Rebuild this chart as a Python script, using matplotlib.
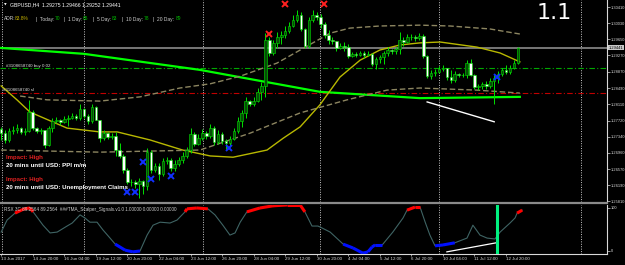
import matplotlib
matplotlib.use("Agg")
import matplotlib.pyplot as plt
from matplotlib.patches import Rectangle

W, H = 625, 265

# ---------------- candles: GBPUSD H4, bar 0 = 13 Jun 2017 12:00 ----------------
first_open = 1.2752
closes = [
    1.2742, 1.2726, 1.2747, 1.2749, 1.2754, 1.2745, 1.2747, 1.2792, 1.2754, 1.2747,
    1.2749, 1.2714, 1.2754, 1.2771, 1.2773, 1.2769, 1.2776, 1.2778, 1.2783, 1.2778,
    1.2799, 1.2783, 1.2771, 1.2804, 1.2773, 1.2730, 1.2742, 1.2733, 1.2735, 1.2702,
    1.2688, 1.2655, 1.2626, 1.2626, 1.2622, 1.2629, 1.2617, 1.2697, 1.2655, 1.2664,
    1.2645, 1.2676, 1.2678, 1.2659, 1.2669, 1.2678, 1.2688, 1.2702, 1.2740, 1.2716,
    1.2730, 1.2742, 1.2735, 1.2754, 1.2721, 1.2740, 1.2723, 1.2719, 1.2728, 1.2747,
    1.2771, 1.2790, 1.2818, 1.2811, 1.2818, 1.2840, 1.2854, 1.2963, 1.2932, 1.2956,
    1.2970, 1.2975, 1.2984, 1.2996, 1.3010, 1.3022, 1.2989, 1.2949, 1.3010, 1.3022,
    1.3017, 1.3001, 1.2975, 1.2963, 1.2960, 1.2944, 1.2949, 1.2946, 1.2925, 1.2930,
    1.2927, 1.2932, 1.2927, 1.2930, 1.2906, 1.2918, 1.2923, 1.2932, 1.2939, 1.2937,
    1.2941, 1.2963, 1.2958, 1.2970, 1.2970, 1.2968, 1.2972, 1.2925, 1.2877, 1.2885,
    1.2887, 1.2894, 1.2896, 1.2875, 1.2868, 1.2882, 1.2880, 1.2880, 1.2908, 1.2880,
    1.2851, 1.2854, 1.2859, 1.2854, 1.2866, 1.2873, 1.2882, 1.2892, 1.2887, 1.2896,
    1.2908, 1.29441,
]
highs = [
    1.2757, 1.2749, 1.2754, 1.2759, 1.2764, 1.2757, 1.2754, 1.2821, 1.2797, 1.2757,
    1.2754, 1.2749, 1.2759, 1.2778, 1.2780, 1.2776, 1.2783, 1.2785, 1.2790, 1.2787,
    1.2811, 1.2802, 1.2787, 1.2811, 1.2806, 1.2773, 1.2749, 1.2745, 1.2742, 1.2745,
    1.2719, 1.2693, 1.2659, 1.2633, 1.2631, 1.2636, 1.2631, 1.2707, 1.2702, 1.2671,
    1.2671, 1.2683, 1.2685, 1.2683, 1.2678, 1.2685, 1.2697, 1.2709, 1.2754, 1.2745,
    1.2740, 1.2752, 1.2747, 1.2764, 1.2759, 1.2749, 1.2745, 1.2728, 1.2735, 1.2754,
    1.2780, 1.2797, 1.2828, 1.2821, 1.2828, 1.2849, 1.2863, 1.2979, 1.2970, 1.2963,
    1.2982, 1.2984, 1.2996, 1.3005, 1.3022, 1.3034, 1.3029, 1.2991, 1.3017, 1.3034,
    1.3029, 1.3024, 1.3005, 1.2987, 1.2970, 1.2960, 1.2956, 1.2958, 1.2953, 1.2934,
    1.2934, 1.2937, 1.2937, 1.2937, 1.2932, 1.2923, 1.2927, 1.2937, 1.2946, 1.2941,
    1.2946, 1.2982, 1.2970, 1.2977, 1.2977, 1.2975, 1.2979, 1.2977, 1.2927, 1.2892,
    1.2894, 1.2901, 1.2904, 1.2896, 1.2892, 1.2889, 1.2885, 1.2885, 1.2915, 1.2918,
    1.2882, 1.2859, 1.2863, 1.2866, 1.2873, 1.2880, 1.2889, 1.2896, 1.2904, 1.2904,
    1.2915, 1.29466,
]
lows = [
    1.2726, 1.2719, 1.2721, 1.2740, 1.2742, 1.2740, 1.2738, 1.2745, 1.2749, 1.2742,
    1.2740, 1.2707, 1.2712, 1.2745, 1.2766, 1.2761, 1.2766, 1.2759, 1.2776, 1.2773,
    1.2773, 1.2778, 1.2764, 1.2766, 1.2773, 1.2721, 1.2726, 1.2728, 1.2728, 1.2688,
    1.2683, 1.2648, 1.2622, 1.2617, 1.2612, 1.2588, 1.2598, 1.2607, 1.2648, 1.2650,
    1.2631, 1.2641, 1.2669, 1.2652, 1.2652, 1.2664, 1.2671, 1.2683, 1.2695, 1.2712,
    1.2714, 1.2726, 1.2728, 1.2730, 1.2714, 1.2716, 1.2716, 1.2704, 1.2712, 1.2726,
    1.2742, 1.2757, 1.2778, 1.2806, 1.2806, 1.2816, 1.2821, 1.2828, 1.2925, 1.2927,
    1.2944, 1.2953, 1.2968, 1.2979, 1.2994, 1.3005, 1.2984, 1.2944, 1.2944, 1.3005,
    1.3010, 1.2991, 1.2968, 1.2953, 1.2953, 1.2937, 1.2941, 1.2937, 1.2920, 1.2923,
    1.2923, 1.2925, 1.2920, 1.2925, 1.2901, 1.2894, 1.2908, 1.2906, 1.2925, 1.2930,
    1.2930, 1.2930, 1.2949, 1.2956, 1.2963, 1.2960, 1.2963, 1.2920, 1.2873, 1.2870,
    1.2877, 1.2885, 1.2889, 1.2868, 1.2861, 1.2863, 1.2875, 1.2875, 1.2873, 1.2877,
    1.2847, 1.2844, 1.2847, 1.2847, 1.2849, 1.2811, 1.2861, 1.2877, 1.2882, 1.2882,
    1.2894, 1.2906,
]

# ---------------- indicator lines on the price chart (bar, price) ----------------
ma_lime_x = [0, 21, 50.4, 80.8, 106.2, 131.5]
ma_lime_y = [1.2944, 1.2930, 1.2892, 1.2840, 1.2825, 1.2828]

tma_mid_x = [0, 4, 7.3, 16.7, 25, 29.4, 37.7, 46, 53, 58.8, 67.4, 71.5, 75.8,
             80.8, 85.9, 91, 96, 101.1, 106.2, 111.3, 120.6, 126.5, 131.5]
tma_mid_y = [1.2854, 1.2821, 1.2792, 1.2754, 1.2745, 1.2745, 1.2726, 1.2702, 1.2688,
             1.2685, 1.2702, 1.2730, 1.2757, 1.2809, 1.2875, 1.2915, 1.2939, 1.2951,
             1.2956, 1.2958, 1.2946, 1.2932, 1.2911]

band_up_x = [4.8, 11.6, 25, 35.2, 45.3, 53, 60.6, 69.9, 75.8, 83.4, 88.4, 96,
             106.2, 113.8, 123.9, 131.5]
band_up_y = [1.2830, 1.2821, 1.2818, 1.2828, 1.2849, 1.2859, 1.2877, 1.2908, 1.2939,
             1.2979, 1.2991, 1.2996, 1.2998, 1.2996, 1.2989, 1.2977]

band_dn_x = [0, 25, 50.4, 63.1, 75.8, 87.7, 97.8, 106.2, 120.6, 131.5]
band_dn_y = [1.2702, 1.2697, 1.2702, 1.2742, 1.2790, 1.2821, 1.2844, 1.2849, 1.2844, 1.2837]

# signal crosses
sell_x = [67.9, 72, 81.9]
sell_y = [1.2977, 1.3048, 1.3048]
buy_x = [31.9, 33.9, 35.9, 38, 43, 57.8, 125.7]
buy_y = [1.2603, 1.2603, 1.2674, 1.2633, 1.2641, 1.2707, 1.2875]

buy_level = 1.2896
sl_level = 1.2837
last_price = 1.29441
trend_x = [108, 125]
trend_y = [1.2816, 1.2769]

week_seps = [0.3, 21, 51.2, 80.8, 111, 147]

# ---------------- RSX oscillator (bar, value) ----------------
rsx_x = [0, 1.5, 3.5, 5.8, 7.3, 8.1, 10.6, 12.4, 14.2, 16.7, 18, 20, 21.2, 22.5,
         24.3, 25.8, 27.6, 28.9, 31.4, 33.4, 35.2, 37, 38.5, 40.3, 42.8, 44.6,
         46.6, 47.1, 49.6, 52.4, 54.2, 56.2, 58, 59.3, 60.6, 62.3, 65.6, 68.9,
         72.5, 75.8, 77, 78.8, 80.3, 80.8, 83.4, 86.7, 89.2, 91.7, 93, 94, 94.8,
         96.6, 99.3, 101.9, 102.9, 104.9, 106.2, 107.5, 108.7, 110, 112, 115,
         118.1, 119.6, 121.4, 123.2, 125.2, 126.5, 129, 130.3, 130.8, 132.1]
rsx_y = [44, 72, 88, 98, 100, 91, 60, 42, 44, 58, 65, 84, 77, 67,
         67, 49, 30, 16, 2, -2, 0, 37, 60, 67, 65, 72,
         91, 98, 100, 98, 84, 60, 37, 42, 67, 91, 100, 105,
         107, 107, 91, 58, 58, 56, 44, 16, 7, -5, -2, 9, 14,
         14, 44, 77, 95, 102, 102, 67, 37, 12, 14, 19,
         30, 60, 37, 30, 28, 44, 65, 77, 88, 95]
rsx_div_x = [113, 125.5]
rsx_div_y = [-2, 19]
signal_bar = 125.8

date_bars = [0, 8, 16, 24, 32, 40, 48, 56, 64, 72, 80, 88, 96, 104, 112, 120, 128]
date_labels = ["13 Jun 2017", "14 Jun 20:00", "16 Jun 04:00", "19 Jun 12:00",
               "20 Jun 20:00", "22 Jun 04:00", "23 Jun 12:00", "26 Jun 20:00",
               "28 Jun 04:00", "29 Jun 12:00", "30 Jun 20:00", "4 Jul 04:00",
               "5 Jul 12:00", "6 Jul 20:00", "10 Jul 04:00", "11 Jul 12:00",
               "12 Jul 20:00"]
price_ticks = [1.30410, 1.30030, 1.29650, 1.29270, 1.28870, 1.28490, 1.28110,
               1.27720, 1.27340, 1.26960, 1.26570, 1.26190, 1.25810]

# colours
WICK = "#00e000"
BULL = "#064d06"
BEAR = "#ffffff"
AXC = "#d8d8d8"
FONT = "Liberation Sans"


def fx(x):
    return x / W


def fy(y):
    return 1 - y / H


fig = plt.figure(figsize=(W / 100, H / 100), dpi=100, facecolor="black")

# ---------------- main price panel ----------------
ax = fig.add_axes([0, fy(202), 607 / W, 202 / H], facecolor="black")
ax.set_xlim(-0.3, 153.6)
ax.set_ylim(1.30576 - 0.000237 * 202, 1.30576)

for b in week_seps:
    ax.axvline(b, color="#c8c8c8", lw=0.7, ls=(0, (1, 1.5)), zorder=1)

ax.axhline(last_price, color="#777777", lw=1.4, zorder=1)
ax.axhline(buy_level, color="#00a800", lw=0.8, ls=(0, (5, 2, 1, 2)), zorder=1)
ax.axhline(sl_level, color="#c00000", lw=0.8, ls=(0, (5, 2, 1, 2)), zorder=1)

ax.plot(ma_lime_x, ma_lime_y, color="#00ff00", lw=1.6, zorder=2)
ax.plot(tma_mid_x, tma_mid_y, color="#b8b800", lw=1.0, zorder=2)
ax.plot(band_up_x, band_up_y, color="#8c8560", lw=1.0, ls=(0, (4, 2)), zorder=2)
ax.plot(band_dn_x, band_dn_y, color="#8c8560", lw=1.0, ls=(0, (4, 2)), zorder=2)

opens = [first_open] + closes[:-1]
for i in range(len(closes)):
    o, c = opens[i], closes[i]
    ax.vlines(i, lows[i], highs[i], color=WICK, lw=0.7, zorder=3)
    lo, hi = min(o, c), max(o, c)
    face = BULL if c >= o else BEAR
    ax.add_patch(Rectangle((i - 0.33, lo), 0.66, max(hi - lo, 0.00006),
                           facecolor=face, edgecolor=WICK, lw=0.4, zorder=4))

ax.plot(sell_x, sell_y, ls="none", marker="x", ms=4, mew=1.4, color="#ff2020", zorder=5)
ax.plot(buy_x, buy_y, ls="none", marker="x", ms=4, mew=1.4, color="#1030ff", zorder=5)
ax.plot(trend_x, trend_y, color="white", lw=1.0, zorder=5)

ax.yaxis.tick_right()
ax.set_yticks(price_ticks)
ax.set_yticklabels([f"{p:.5f}" for p in price_ticks], fontsize=2.9, color=AXC, family=FONT)
ax.tick_params(axis="y", length=2, width=0.5, color=AXC, pad=1)
ax.set_xticks([])
for s in ["top", "bottom", "left"]:
    ax.spines[s].set_visible(False)
ax.spines["right"].set_color(AXC)
ax.spines["right"].set_linewidth(0.8)

# current price box
ax.text(1.003, last_price, f"{last_price:.5f}", transform=ax.get_yaxis_transform(),
        fontsize=2.9, family=FONT, color="black", va="center", ha="left",
        bbox=dict(boxstyle="square,pad=0.15", fc="#c8c8c8", ec="none"), zorder=6)

# ---------------- RSX panel ----------------
ax2 = fig.add_axes([0, fy(254), 607 / W, 49.5 / H], facecolor="black")
ax2.set_xlim(-0.3, 153.6)
ax2.set_ylim(-7.0, 108.1)
for b in week_seps:
    ax2.axvline(b, color="#c8c8c8", lw=0.7, ls=(0, (1, 1.5)), zorder=1)

ax2.plot(rsx_x, rsx_y, color="#3f6464", lw=0.8, zorder=2)
for k in range(len(rsx_x) - 1):
    seg_x = rsx_x[k:k + 2]
    seg_y = rsx_y[k:k + 2]
    if min(seg_y) >= 85:
        ax2.plot(seg_x, seg_y, color="#ff0000", lw=2.2, solid_capstyle="butt", zorder=3)
    elif max(seg_y) <= 20:
        ax2.plot(seg_x, seg_y, color="#0010ff", lw=2.2, solid_capstyle="butt", zorder=3)
ax2.plot(rsx_div_x, rsx_div_y, color="white", lw=0.9, zorder=4)
ax2.axvline(signal_bar, color="#00f080", lw=2.2, zorder=4)

ax2.yaxis.tick_right()
ax2.set_yticks([0, 100])
ax2.set_yticklabels(["0", "100"], fontsize=2.9, color=AXC, family=FONT)
ax2.tick_params(axis="y", length=2, width=0.5, color=AXC, pad=1)
ax2.set_xticks(date_bars)
ax2.set_xticklabels(date_labels, fontsize=3.2, color=AXC, family=FONT, ha="left")
ax2.tick_params(axis="x", length=1.5, width=0.5, color=AXC, pad=0.8)
ax2.spines["left"].set_visible(False)
ax2.spines["top"].set_visible(False)
for s in ["right", "bottom"]:
    ax2.spines[s].set_color(AXC)
    ax2.spines[s].set_linewidth(0.8)

# panel separator
fig.add_artist(plt.Line2D([0, fx(607)], [fy(203), fy(203)], color="#8a8a8a", lw=1.6))

# ---------------- texts ----------------
fig.text(fx(4), fy(5), "\u25bc", fontsize=2.5, color="white", va="center")
fig.text(fx(10), fy(5), "GBPUSD,H4  1.29275 1.29466 1.29252 1.29441",
         fontsize=3.7, color="white", family=FONT, va="center")

adr_parts = [(4, "ADR:", "#d0d0d0"), (15, "83.8%", "#c8b400"),
             (36, "|  Today:", "#d0d0d0"), (55, "70", "#00c000"),
             (64, "|  1 Day:", "#d0d0d0"), (83, "65", "#00c000"),
             (93, "|  5 Day:", "#d0d0d0"), (112, "83", "#00c000"),
             (122, "|  10 Day:", "#d0d0d0"), (144, "78", "#00c000"),
             (153, "|  20 Day:", "#d0d0d0"), (176, "89", "#00c000")]
for x, s, col in adr_parts:
    fig.text(fx(x), fy(19), s, fontsize=3.5, color=col, family=FONT, va="center")

fig.text(fx(537), fy(13), "1.1", fontsize=16, color="white", va="center")

fig.text(fx(6), fy(65.5), "#3108658740 buy 0.02", fontsize=3.2, color="#e0e0e0",
         family=FONT, va="center")
fig.text(fx(3), fy(90), "#3108658740 sl", fontsize=3.2, color="#e0e0e0",
         family=FONT, va="center")

fig.text(fx(6), fy(157), "Impact: High", fontsize=4.4, color="#e02020",
         family=FONT, weight="bold", va="center")
fig.text(fx(6), fy(165.5), "20 mins until USD: PPI m/m", fontsize=4.4, color="white",
         family=FONT, weight="bold", va="center")
fig.text(fx(6), fy(179.5), "Impact: High", fontsize=4.4, color="#e02020",
         family=FONT, weight="bold", va="center")
fig.text(fx(6), fy(188), "20 mins until USD: Unemployment Claims", fontsize=4.4,
         color="white", family=FONT, weight="bold", va="center")

fig.text(fx(4), fy(209), "RSX 3C 89.2564 89.2564  ###TMA_Scalper_Signals.v1.0 1.00000 0.00000 0.00000",
         fontsize=3.3, color="#d0d0d0", family=FONT, va="center")

fig.savefig("out.png", dpi=100, facecolor="black")
